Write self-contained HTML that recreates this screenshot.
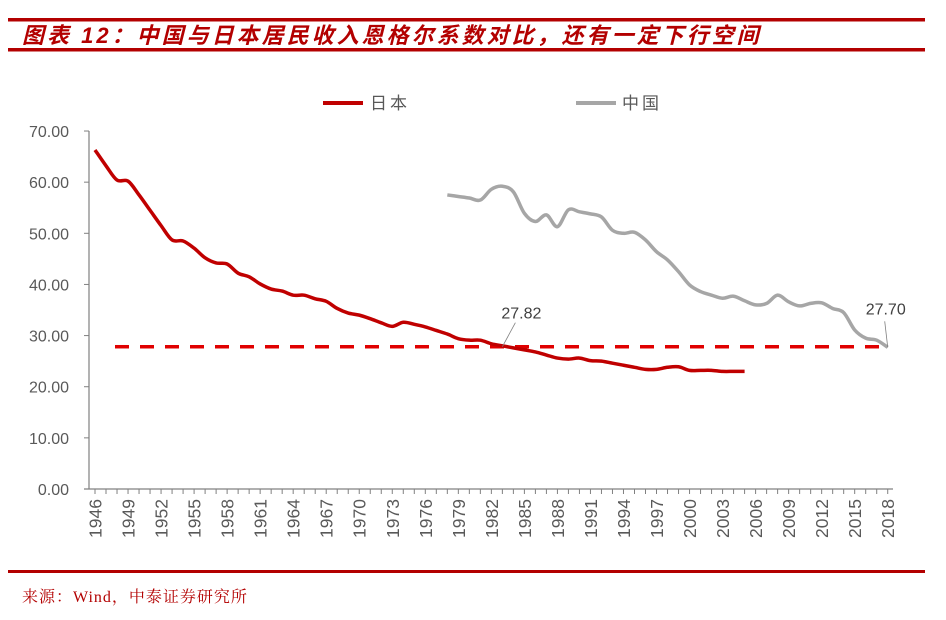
<!DOCTYPE html>
<html><head><meta charset="utf-8">
<style>
body{margin:0;background:#fff;width:946px;height:615px;overflow:hidden;font-family:"Liberation Sans","Noto Sans CJK SC",sans-serif;}
</style></head>
<body>
<svg width="946" height="615" xmlns="http://www.w3.org/2000/svg">
<rect x="8" y="18" width="917" height="3.5" fill="#b30000"/>
<rect x="8" y="48" width="917" height="3.5" fill="#b30000"/>
<text x="22" y="43" font-size="22" font-weight="bold" font-style="italic" fill="#b30000" letter-spacing="3" font-family="'Liberation Sans','Noto Sans CJK SC',sans-serif">图表 12：中国与日本居民收入恩格尔系数对比，还有一定下行空间</text>
<rect x="8" y="570" width="917" height="3" fill="#b30000"/>
<text x="22" y="602" font-size="16" fill="#b30000" letter-spacing="1" font-family="'Liberation Serif','Noto Serif CJK SC',serif">来源：Wind，中泰证券研究所</text>
<g>
<line x1="323" y1="103" x2="363" y2="103" stroke="#c00000" stroke-width="4"/>
<text x="370" y="109" font-size="17" fill="#595959" letter-spacing="3">日本</text>
<line x1="576" y1="103" x2="616" y2="103" stroke="#a6a6a6" stroke-width="4"/>
<text x="622" y="109" font-size="17" fill="#595959" letter-spacing="3">中国</text>
</g>
<g id="axes"></g>
<g id="marks"></g>
</svg>
<script>
const years = [];
for (let y = 1946; y <= 2018; y++) years.push(y);
const yTicks = [0,10,20,30,40,50,60,70];
const japanStart = 1946;
const japan = [66.3,63.2,60.4,60.2,57.5,54.5,51.5,48.7,48.5,47.1,45.2,44.2,44.0,42.2,41.5,40.1,39.1,38.7,37.9,37.9,37.2,36.7,35.3,34.4,34.0,33.3,32.5,31.8,32.6,32.2,31.7,31.0,30.3,29.4,29.1,29.1,28.4,28.0,27.6,27.2,26.8,26.2,25.6,25.4,25.6,25.1,25.0,24.6,24.2,23.8,23.4,23.4,23.8,23.9,23.2,23.2,23.2,23.0,23.0,23.0];
const chinaStart = 1978;
const china = [57.5,57.2,56.9,56.5,58.6,59.2,58.1,53.9,52.3,53.6,51.3,54.6,54.2,53.8,53.2,50.6,50.0,50.2,48.7,46.4,44.8,42.5,39.9,38.6,37.9,37.3,37.7,36.8,36.0,36.3,37.9,36.6,35.8,36.3,36.4,35.3,34.5,31.1,29.5,29.1,27.7];
const refValue = [27.82];
const refLabels = ["27.82","27.70"];

const X = yr => 95 + (yr - 1946) * 11.01;
const Y = v => 489 - v * 5.114;
const NS = "http://www.w3.org/2000/svg";
const axes = document.getElementById('axes'), marks = document.getElementById('marks');
function mk(tag, attrs, parent){const e=document.createElementNS(NS,tag);for(const k in attrs)e.setAttribute(k,attrs[k]);parent.appendChild(e);return e;}

let e = mk('line',{x1:89,y1:Y(70),x2:89,y2:489,stroke:'#808080','stroke-width':1.2},axes);


e = mk('line',{x1:84,y1:489,x2:893,y2:489,stroke:'#808080','stroke-width':1.2},axes);


yTicks.forEach(v=>{
  const t = mk('line',{x1:84,y1:Y(v),x2:89,y2:Y(v),stroke:'#808080'},axes);
  
  
  const l = mk('text',{x:69,y:Y(v)+6,'text-anchor':'end','font-size':16,fill:'#595959'},axes);
  l.textContent = v.toFixed(2);
  
  
});
years.forEach((yr,i)=>{
  const x = X(yr);
  const t = mk('line',{x1:x,y1:489,x2:x,y2:494,stroke:'#808080'},axes);
  
  
  if(i%3===0){
    const l = mk('text',{x:0,y:0,'text-anchor':'end','font-size':17.5,fill:'#595959',transform:`translate(${x+6.5},499) rotate(-90)`},axes);
    l.textContent = yr;
    
    
  }
});
function smooth(pts){
  let d = `M${pts[0][0]},${pts[0][1]}`;
  for(let i=0;i<pts.length-1;i++){
    const p0=pts[Math.max(0,i-1)],p1=pts[i],p2=pts[i+1],p3=pts[Math.min(pts.length-1,i+2)];
    const c1=[p1[0]+(p2[0]-p0[0])/6,p1[1]+(p2[1]-p0[1])/6];
    const c2=[p2[0]-(p3[0]-p1[0])/6,p2[1]-(p3[1]-p1[1])/6];
    d+=` C${c1[0]},${c1[1]} ${c2[0]},${c2[1]} ${p2[0]},${p2[1]}`;
  }
  return d;
}
e = mk('line',{x1:115,y1:Y(refValue[0]),x2:X(2018),y2:Y(refValue[0]),stroke:'#e00000','stroke-width':3.5,'stroke-dasharray':'14,11'},marks);


e = mk('path',{d:smooth(china.map((v,i)=>[X(chinaStart+i),Y(v)])),fill:'none',stroke:'#a6a6a6','stroke-width':3.5,'stroke-linejoin':'round'},marks);


e = mk('path',{d:smooth(japan.map((v,i)=>[X(japanStart+i),Y(v)])),fill:'none',stroke:'#c00000','stroke-width':3.5,'stroke-linejoin':'round'},marks);


const ax1 = X(1983), ay1 = Y(refValue[0]);
e = mk('line',{x1:ax1,y1:ay1,x2:ax1+13,y2:ay1-24,stroke:'#808080','stroke-width':0.8},marks);


e = mk('text',{x:ax1+19,y:ay1-28,'text-anchor':'middle','font-size':16,fill:'#404040'},marks);
e.textContent = refLabels[0];


const ax2 = X(2018), ay2 = Y(china[china.length-1]);
e = mk('line',{x1:ax2,y1:ay2,x2:ax2-3,y2:ay2-26,stroke:'#808080','stroke-width':0.8},marks);


e = mk('text',{x:ax2-2,y:ay2-33,'text-anchor':'middle','font-size':16,fill:'#404040'},marks);
e.textContent = refLabels[1];


</script>
</body></html>
